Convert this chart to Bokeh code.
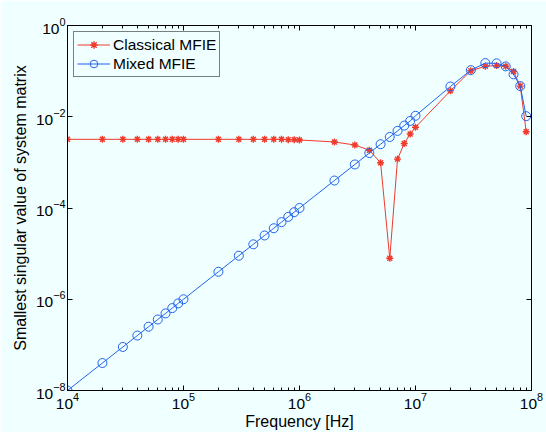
from bokeh.plotting import figure
from bokeh.models import LogAxis, FixedTicker, Legend, LegendItem
from bokeh.embed import file_html
from bokeh.resources import INLINE

freq = [1e4, 2e4, 3e4, 4e4, 5e4, 6e4, 7e4, 8e4, 9e4,
        1e5, 2e5, 3e5, 4e5, 5e5, 6e5, 7e5, 8e5, 9e5,
        1e6, 2e6, 3e6, 4e6, 5e6, 6e6, 7e6, 8e6, 9e6,
        1e7, 2e7, 3e7, 4e7, 5e7, 6e7, 7e7, 8e7, 9e7]

classical = [3.2e-3, 3.2e-3, 3.2e-3, 3.2e-3, 3.2e-3, 3.2e-3, 3.2e-3, 3.2e-3, 3.2e-3,
             3.2e-3, 3.2e-3, 3.2e-3, 3.2e-3, 3.2e-3, 3.2e-3, 3.2e-3, 3.15e-3, 3.15e-3,
             3.1e-3, 2.8e-3, 2.4e-3, 1.85e-3, 9.8e-4, 7.9e-6, 1.18e-3, 2.6e-3, 4.2e-3,
             5.9e-3, 3.7e-2, 0.102, 0.128, 0.132, 0.128, 0.098, 0.047, 4.7e-3]

mixed = [1e-8, 4e-8, 9e-8, 1.6e-7, 2.5e-7, 3.6e-7, 4.9e-7, 6.4e-7, 8.1e-7,
         1e-6, 4e-6, 9e-6, 1.6e-5, 2.5e-5, 3.6e-5, 4.9e-5, 6.4e-5, 8.1e-5,
         1e-4, 4e-4, 9e-4, 1.6e-3, 2.5e-3, 3.6e-3, 4.9e-3, 6.4e-3, 8.1e-3,
         1.05e-2, 4.6e-2, 0.105, 0.15, 0.148, 0.127, 0.085, 0.047, 0.0103]

x_major = [1e4, 1e5, 1e6, 1e7, 1e8]
x_minor = [m * d for d in [1e4, 1e5, 1e6, 1e7] for m in range(2, 10)]
y_major = [1e-8, 1e-6, 1e-4, 1e-2, 1e0]

RED = "#f03a2c"
BLUE = "#2163ee"
BG = "#f0ffff"
FONT = "Liberation Sans"

p = figure(width=546, height=432, x_axis_type="log", y_axis_type="log",
           x_range=(1e4, 1e8), y_range=(1e-8, 1e0),
           output_backend="svg", toolbar_location=None,
           min_border_left=67, min_border_right=15, min_border_top=25, min_border_bottom=40)
p.background_fill_color = BG
p.border_fill_color = BG
p.outline_line_color = "black"
p.outline_line_width = 1
p.xgrid.visible = False
p.ygrid.visible = False

xt = FixedTicker(ticks=x_major, minor_ticks=x_minor)
yt = FixedTicker(ticks=y_major, minor_ticks=[])

def style(ax, ticker, labels=True):
    ax.ticker = ticker
    ax.axis_line_color = "black"
    ax.major_tick_in = 5
    ax.major_tick_out = 0
    ax.minor_tick_in = 3
    ax.minor_tick_out = 0
    ax.major_tick_line_color = "black"
    ax.minor_tick_line_color = "black"
    ax.major_label_text_font = FONT
    ax.major_label_text_font_size = "15.5px" if labels else "2px"
    ax.major_label_text_color = "black"
    ax.major_label_text_alpha = 1 if labels else 0
    ax.major_label_standoff = 2 if labels else 0
    ax.axis_label_text_font = FONT
    ax.axis_label_text_font_size = "16px"
    ax.axis_label_text_font_style = "normal"
    ax.axis_label_text_color = "black"

style(p.xaxis[0], xt)
style(p.yaxis[0], yt)
p.xaxis[0].axis_label = "Frequency [Hz]"
p.xaxis[0].axis_label_standoff = 1
p.yaxis[0].axis_label = "Smallest singular value of system matrix"
p.yaxis[0].axis_label_standoff = 4

top = LogAxis()
right = LogAxis()
style(top, xt, labels=False)
style(right, yt, labels=False)
p.add_layout(top, "above")
p.add_layout(right, "right")

rl = p.line(freq, classical, line_color=RED, line_width=1)
rs = p.scatter(freq, classical, marker="asterisk", size=7, line_color=RED, line_width=1.4)
bl = p.line(freq, mixed, line_color=BLUE, line_width=1)
bs = p.scatter(freq, mixed, marker="circle", size=9, line_color=BLUE, fill_color=None, line_width=1)

legend = Legend(items=[LegendItem(label="Classical MFIE", renderers=[rl, rs]),
                       LegendItem(label="Mixed MFIE", renderers=[bl, bs])],
                location="top_left")
legend.margin = 6
legend.padding = 3
legend.spacing = 0
legend.glyph_width = 33
legend.glyph_height = 19
legend.label_height = 19
legend.label_standoff = 3
legend.label_text_font = FONT
legend.label_text_font_size = "15.5px"
legend.label_text_color = "black"
legend.border_line_color = "black"
legend.border_line_width = 1
legend.background_fill_color = BG
legend.background_fill_alpha = 1
p.add_layout(legend)

open("out.html", "w").write(file_html(p, INLINE))
